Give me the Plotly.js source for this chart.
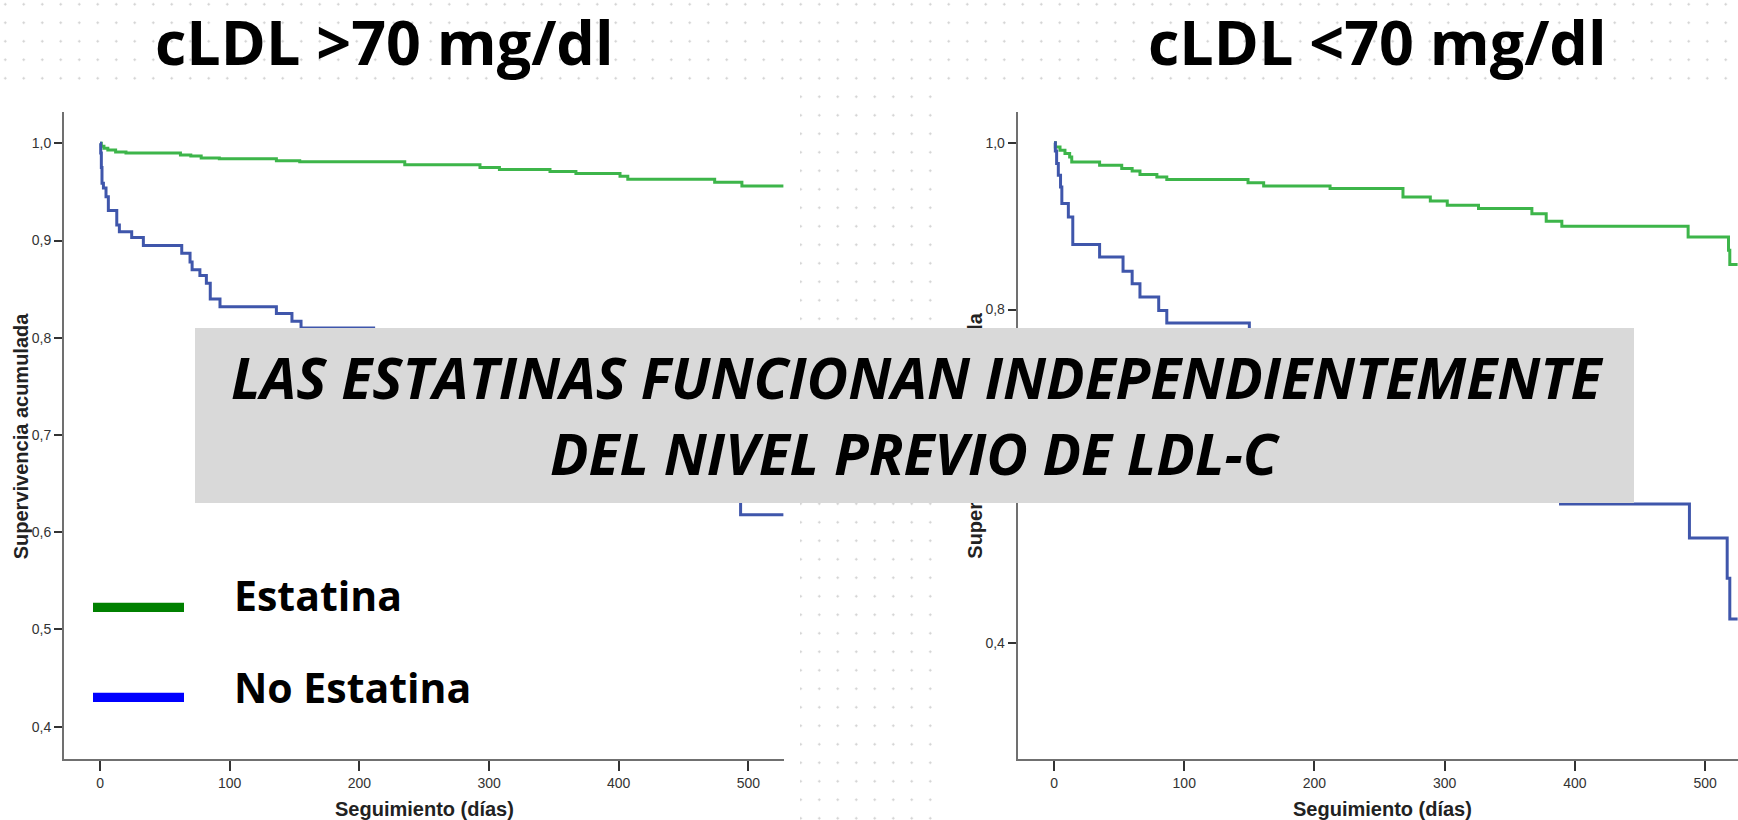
<!DOCTYPE html>
<html>
<head>
<meta charset="utf-8">
<script src="https://cdn.plot.ly/plotly-3.0.1.min.js"></script>
<style>
  html, body { margin: 0; padding: 0; }
  body {
    width: 1738px; height: 820px; overflow: hidden;
    background-color: #ffffff;
    background-image: radial-gradient(circle, #cfcfcf 0.9px, rgba(255,255,255,0) 1.4px);
    background-size: 18.5px 18.5px;
    background-position: -4px -5px;
  }
  #chart { width: 1738px; height: 820px; }
</style>
</head>
<body>
<div id="chart"></div>
<script>
// ---------- Data ----------
// cLDL > 70 mg/dl  — Estatina
const diasEstatinaAlto = [0, 1, 3, 6, 12, 20, 62, 70, 78, 92, 136, 154, 235, 293, 308, 347, 367, 401, 407, 474, 495, 527];
const supEstatinaAlto  = [1.000, 0.997, 0.995, 0.993, 0.991, 0.990, 0.988, 0.987, 0.985, 0.984, 0.982, 0.981, 0.978, 0.975, 0.973, 0.971, 0.969, 0.966, 0.963, 0.960, 0.956, 0.956];
// cLDL > 70 mg/dl  — No Estatina
const diasNoEstatinaAlto = [0, 0.5, 1, 1.5, 2.6, 4.6, 6.4, 12.9, 14.9, 24.4, 33.4, 63, 69.4, 71, 77, 82, 85, 92.5, 136, 148, 155, 211, 265, 330, 400, 450, 494, 527];
const supNoEstatinaAlto  = [1.000, 0.990, 0.975, 0.959, 0.954, 0.945, 0.931, 0.916, 0.909, 0.903, 0.895, 0.887, 0.878, 0.870, 0.864, 0.856, 0.840, 0.832, 0.825, 0.817, 0.810, 0.780, 0.750, 0.720, 0.690, 0.660, 0.618, 0.618];
// cLDL < 70 mg/dl  — Estatina
const diasEstatinaBajo = [0, 1, 4.6, 8.4, 12, 13.6, 35, 52, 60, 66, 79, 86.6, 149, 161, 212, 268, 289, 302, 326, 367, 378, 390, 487, 518, 519, 525];
const supEstatinaBajo  = [1.000, 0.995, 0.991, 0.987, 0.983, 0.977, 0.973, 0.969, 0.966, 0.962, 0.959, 0.956, 0.952, 0.948, 0.945, 0.935, 0.930, 0.925, 0.921, 0.915, 0.906, 0.900, 0.887, 0.871, 0.854, 0.854];
// cLDL < 70 mg/dl  — No Estatina
const diasNoEstatinaBajo = [0, 1, 2, 3.3, 5, 6, 11, 14.4, 35, 53, 60, 66, 80.4, 86.6, 150, 190, 240, 300, 350, 389, 488, 517, 519, 525];
const supNoEstatinaBajo  = [1.000, 0.990, 0.975, 0.961, 0.947, 0.927, 0.911, 0.878, 0.863, 0.846, 0.831, 0.815, 0.799, 0.784, 0.750, 0.710, 0.670, 0.630, 0.600, 0.567, 0.526, 0.478, 0.429, 0.429];

const ticksDias = [0, 100, 200, 300, 400, 500];
const ticksSupIzq = [0.4, 0.5, 0.6, 0.7, 0.8, 0.9, 1.0];
const ticksSupDer = [0.4, 0.6, 0.8, 1.0];

const tituloIzq = 'cLDL >70 mg/dl';
const tituloDer = 'cLDL <70 mg/dl';
const etiquetaY = 'Supervivencia acumulada';
const etiquetaX = 'Seguimiento (días)';
const serieNombres = ['Estatina', 'No Estatina'];
const mensaje1 = 'LAS ESTATINAS FUNCIONAN INDEPENDIENTEMENTE';
const mensaje2 = 'DEL NIVEL PREVIO DE LDL-C';

// ---------- Layout helpers ----------
const W = 1738, H = 820;
const px = x => x / W;
const py = y => 1 - y / H;

const colVerde = '#3db54a';
const colAzul = '#3f56ab';

function curva(x, y, color, xa, ya, nombre) {
  return { type: 'scatter', mode: 'lines', x: x, y: y, name: nombre,
           line: { shape: 'hv', color: color, width: 3 }, xaxis: xa, yaxis: ya,
           hoverinfo: 'skip' };
}

const traces = [
  curva(diasEstatinaAlto, supEstatinaAlto, colVerde, 'x', 'y', serieNombres[0]),
  curva(diasNoEstatinaAlto, supNoEstatinaAlto, colAzul, 'x', 'y', serieNombres[1]),
  curva(diasEstatinaBajo, supEstatinaBajo, colVerde, 'x2', 'y2', serieNombres[0]),
  curva(diasNoEstatinaBajo, supNoEstatinaBajo, colAzul, 'x2', 'y2', serieNombres[1])
];

const ejeComun = {
  ticks: 'outside', tickwidth: 2, tickcolor: '#333',
  showline: true, linecolor: '#707070', linewidth: 2,
  showgrid: false, zeroline: false, fixedrange: true,
  tickfont: { family: 'Liberation Sans, Arial, sans-serif', size: 14, color: '#333' }
};

const yDom = [py(759.3), py(111.7)];

const fTitulo = { family: 'Open Sans, sans-serif', size: 61, color: '#000', weight: 700 };
const fLeyenda = { family: 'Open Sans, sans-serif', size: 41, color: '#000', weight: 700 };
const fEje = { family: 'Liberation Sans, Arial, sans-serif', size: 20, color: '#222', weight: 700 };
const fMensaje = { family: 'Open Sans, sans-serif', size: 57, color: '#000', weight: 700, style: 'italic' };

function nota(text, x, y, font, extra) {
  return Object.assign({ text: text, xref: 'paper', yref: 'paper', x: px(x), y: py(y),
    xanchor: 'center', yanchor: 'middle', showarrow: false, font: font, borderpad: 0 }, extra || {});
}

const annotations = [
  nota(tituloIzq, 384, 41, fTitulo),
  nota(tituloDer, 1377.5, 41, fTitulo),
  nota(serieNombres[0], 233, 595, fLeyenda, { xanchor: 'left' }),
  nota(serieNombres[1], 233, 686.7, fLeyenda, { xanchor: 'left' }),
  nota(etiquetaX, 424, 809, fEje),
  nota(etiquetaX, 1382, 809, fEje),
  nota(etiquetaY, 20.8, 435.5, fEje, { textangle: -90 }),
  nota(etiquetaY, 974.2, 435.5, fEje, { textangle: -90 }),
  // grey message box (drawn as an annotation so it covers the axis title, as in the slide)
  nota(' ', 914.5, 415.35, { size: 10, color: '#d9d9d9' },
       { bgcolor: '#d9d9d9', width: 1439, height: 174.7, borderwidth: 0 }),
  nota(mensaje1, 916.7, 377, fMensaje),
  nota(mensaje2, 915.5, 453, fMensaje)
];

const shapes = [
  // white backgrounds of the two pasted charts
  { type: 'rect', xref: 'paper', yref: 'paper', x0: px(0), x1: px(800), y0: py(820), y1: py(86),
    fillcolor: '#ffffff', line: { width: 0 }, layer: 'below' },
  { type: 'rect', xref: 'paper', yref: 'paper', x0: px(935), x1: px(1738), y0: py(820), y1: py(86),
    fillcolor: '#ffffff', line: { width: 0 }, layer: 'below' },
  // legend keys
  { type: 'rect', xref: 'paper', yref: 'paper', x0: px(93), x1: px(184), y0: py(612), y1: py(602.7),
    fillcolor: '#008000', line: { width: 0 }, layer: 'above' },
  { type: 'rect', xref: 'paper', yref: 'paper', x0: px(93), x1: px(184), y0: py(702), y1: py(692.7),
    fillcolor: '#0000ff', line: { width: 0 }, layer: 'above' }
];

const layout = {
  width: W, height: H,
  margin: { l: 0, r: 0, t: 0, b: 0, pad: 0 },
  paper_bgcolor: 'rgba(0,0,0,0)', plot_bgcolor: 'rgba(0,0,0,0)',
  separators: ',.',
  showlegend: false, hovermode: false,
  font: { family: 'Liberation Sans, Arial, sans-serif', color: '#222' },
  xaxis: Object.assign({}, ejeComun, { domain: [px(64), px(784.3)], range: [-27.8, 527.7], anchor: 'y',
    tickvals: ticksDias, ticklen: 10 }),
  yaxis: Object.assign({}, ejeComun, { domain: yDom, range: [0.3665, 1.0325], anchor: 'x',
    tickvals: ticksSupIzq, tickformat: '.1f', ticklen: 8 }),
  xaxis2: Object.assign({}, ejeComun, { domain: [px(1017.7), 1], range: [-27.9, 525.3], anchor: 'y2',
    tickvals: ticksDias, ticklen: 10 }),
  yaxis2: Object.assign({}, ejeComun, { domain: yDom, range: [0.2608, 1.0372], anchor: 'x2',
    tickvals: ticksSupDer, tickformat: '.1f', ticklen: 8 }),
  shapes: shapes,
  annotations: annotations
};

Plotly.newPlot('chart', traces, layout, { displayModeBar: false, staticPlot: true });
</script>
</body>
</html>
